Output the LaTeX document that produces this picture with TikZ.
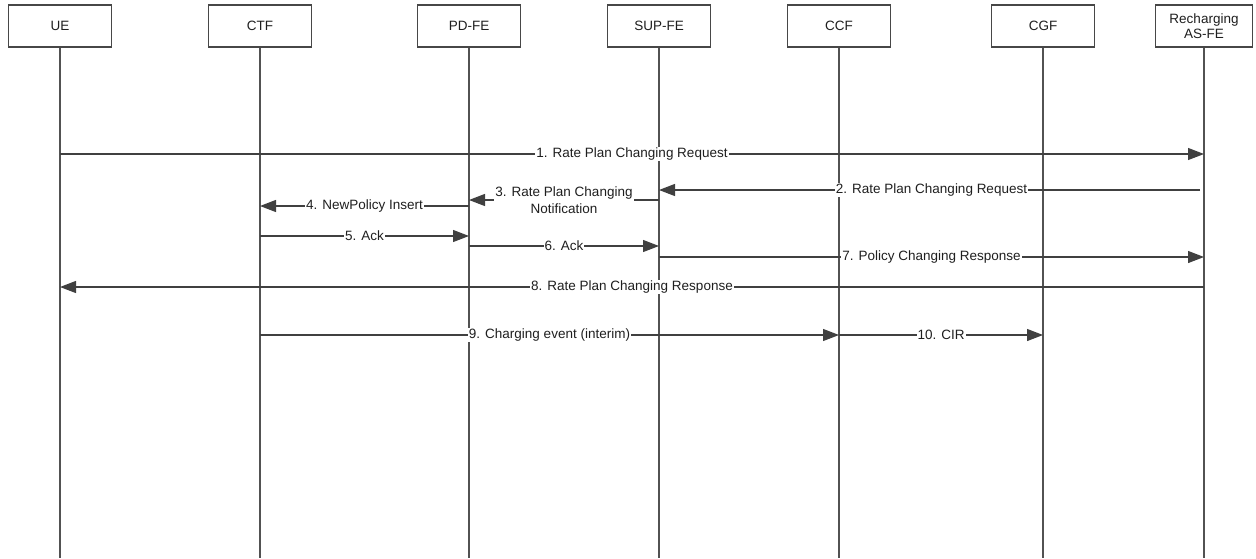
\documentclass[tikz,border=0pt]{standalone}
\usepackage{fontspec}
\setmainfont{Liberation Sans}
\usetikzlibrary{arrows.meta}
\begin{document}
\begin{tikzpicture}[x=1pt,y=-1pt,
  every node/.style={font=\fontsize{13.5}{16.5}\selectfont, text=black!88},
  entity/.style={draw=black!72, line width=1.4pt, fill=white, minimum width=103pt,
    minimum height=42pt, inner sep=1pt, align=center},
  lifeline/.style={draw=black!68, line width=1.2pt},
  msg/.style={draw=black!75, line width=1.2pt, -{Triangle[length=16pt,width=12pt]}},
  lbl/.style={fill=white, inner sep=1pt, align=center}]
\useasboundingbox (0,0) rectangle (1256,558);

% participants
\node[entity] (ue)   at (60,26)   {UE};
\node[entity] (ctf)  at (260,26)  {CTF};
\node[entity] (pdfe) at (469,26)  {PD-FE};
\node[entity] (sup)  at (659,26)  {SUP-FE};
\node[entity] (ccf)  at (839,26)  {CCF};
\node[entity] (cgf)  at (1043,26) {CGF};
\node[entity, minimum width=97pt] (rech) at (1204,26) {Recharging\\[-2pt]AS-FE};

% lifeline ends
\coordinate (ueB)   at (60,558);
\coordinate (ctfB)  at (260,558);
\coordinate (pdfeB) at (469,558);
\coordinate (supB)  at (659,558);
\coordinate (ccfB)  at (839,558);
\coordinate (cgfB)  at (1043,558);
\coordinate (rechB) at (1204,558);

\foreach \p in {ue,ctf,pdfe,sup,ccf,cgf,rech}
  \draw[lifeline] (\p.south) -- (\p B);

% messages
\draw[msg] (ue |- 0,154) -- node[lbl] {1. Rate Plan Changing Request} (rech |- 0,154);
\draw[msg, shorten <=4pt] (rech |- 0,190) -- node[lbl] {2. Rate Plan Changing Request} (sup |- 0,190);
\draw[msg] (sup |- 0,200) -- node[lbl] {3. Rate Plan Changing\\Notification} (pdfe |- 0,200);
\draw[msg] (pdfe |- 0,206) -- node[lbl] {4. NewPolicy Insert} (ctf |- 0,206);
\draw[msg] (ctf |- 0,236) -- node[lbl] {5. Ack} (pdfe |- 0,236);
\draw[msg] (pdfe |- 0,246) -- node[lbl] {6. Ack} (sup |- 0,246);
\draw[msg] (sup |- 0,257) -- node[lbl] {7. Policy Changing Response} (rech |- 0,257);
\draw[msg] (rech |- 0,287) -- node[lbl] {8. Rate Plan Changing Response} (ue |- 0,287);
\draw[msg] (ctf |- 0,335) -- node[lbl] {9. Charging event (interim)} (ccf |- 0,335);
\draw[msg] (ccf |- 0,335) -- node[lbl] {10. CIR} (cgf |- 0,335);
\end{tikzpicture}
\end{document}
